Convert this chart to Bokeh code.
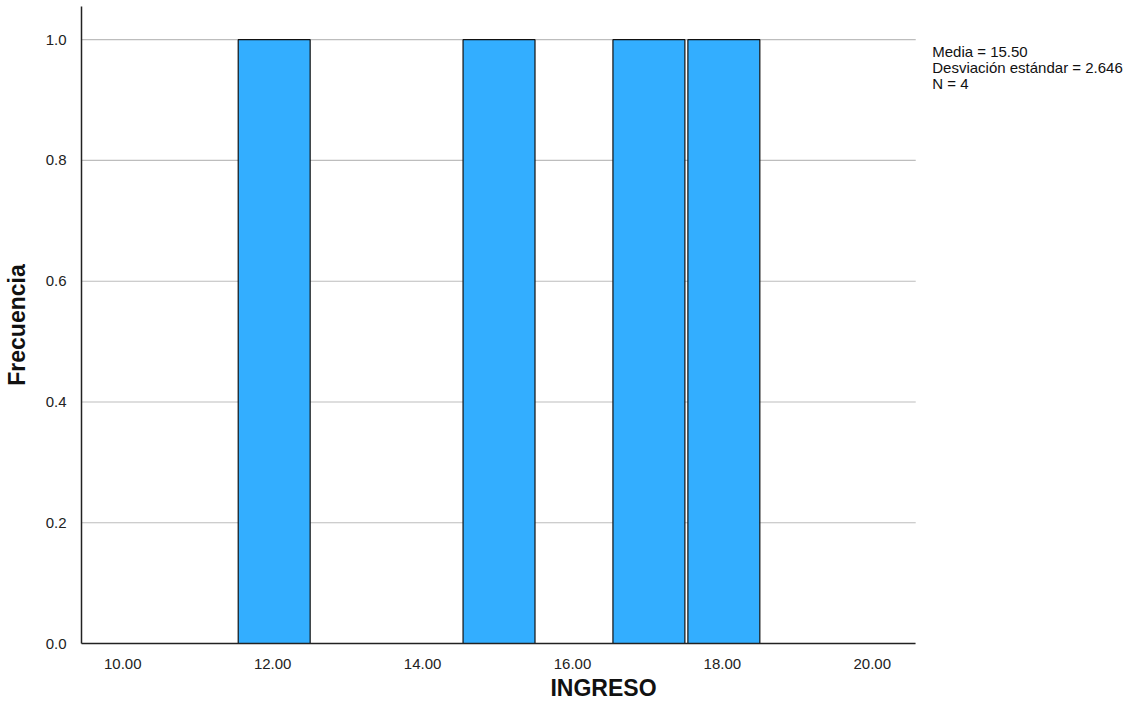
from bokeh.plotting import figure
from bokeh.models import FixedTicker, NumeralTickFormatter, Label, ColumnDataSource
from bokeh.embed import file_html
from bokeh.resources import INLINE

# Data
valores = [12.0, 15.0, 17.0, 18.0]
frecuencias = [1, 1, 1, 1]
x_ticks = [10, 12, 14, 16, 18, 20]
y_ticks = [0.0, 0.2, 0.4, 0.6, 0.8, 1.0]
stats_lines = ["Media = 15.50", "Desviación estándar = 2.646", "N = 4"]

src = ColumnDataSource(dict(
    left=[v - 0.46 for v in valores],
    right=[v + 0.5 for v in valores],
    top=frecuencias,
    bottom=[0] * len(valores),
))

X0, X1 = 9.449, 20.58
p = figure(width=1125, height=703, output_backend="svg", toolbar_location=None,
           x_range=(X0, 23.379), y_range=(0, 1.055),
           min_border_left=75, min_border_right=0, min_border_top=6, min_border_bottom=60)
p.outline_line_color = None
p.background_fill_color = "white"
p.xgrid.grid_line_color = None
p.ygrid.grid_line_color = None

# horizontal grid lines limited to the plotting area of the histogram
p.segment(x0=[X0] * len(y_ticks), x1=[X1] * len(y_ticks), y0=y_ticks, y1=y_ticks,
          line_color="#BDBDBD", line_width=1.2)

p.quad(left="left", right="right", top="top", bottom="bottom", source=src,
       fill_color="#33AEFF", line_color="#111111", line_width=1.2)

FONT = "Liberation Sans"
for ax in (p.xaxis, p.yaxis):
    ax.major_tick_line_color = None
    ax.minor_tick_line_color = None
    ax.axis_line_color = "#222222"
    ax.axis_line_width = 1.5
    ax.major_label_text_font = FONT
    ax.major_label_text_font_size = "15px"
    ax.major_label_text_color = "#222222"
    ax.axis_label_text_font = FONT
    ax.axis_label_text_font_style = "bold"
    ax.axis_label_text_font_size = "23px"
    ax.axis_label_text_color = "#111111"

p.xaxis.bounds = (X0, X1)
p.xaxis.ticker = FixedTicker(ticks=x_ticks)
p.xaxis.formatter = NumeralTickFormatter(format="0.00")
p.yaxis.ticker = FixedTicker(ticks=y_ticks)
p.yaxis.formatter = NumeralTickFormatter(format="0.0")
p.xaxis.major_label_standoff = 9
p.yaxis.major_label_standoff = 9
p.xaxis.axis_label = "INGRESO"
p.yaxis.axis_label = "Frecuencia"
p.xaxis.axis_label_standoff = 3
p.yaxis.axis_label_standoff = 13

for i, t in enumerate(stats_lines):
    p.add_layout(Label(x=20.80, y=0.9805 - i * 0.0265, text=t, text_font=FONT,
                       text_font_size="15px", text_color="#111111",
                       text_baseline="alphabetic", text_align="left"))

open("out.html", "w").write(file_html(p, INLINE))
